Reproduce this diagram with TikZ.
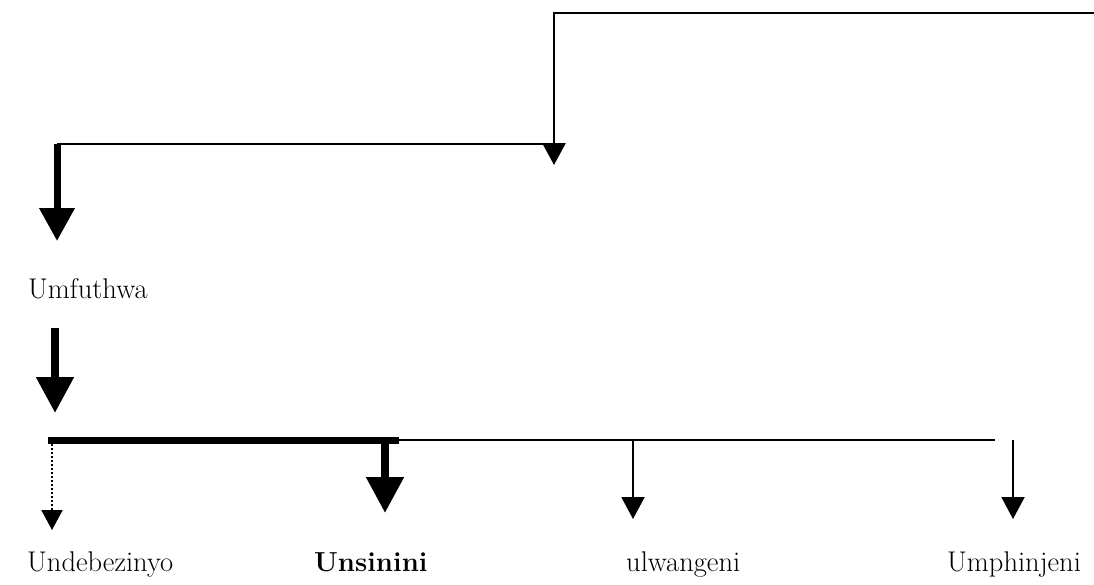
\documentclass[tikz,border=0pt]{standalone}
\usetikzlibrary{arrows.meta}
\begin{document}
\begin{tikzpicture}[x=1pt,y=-1pt,
  lbl/.style={anchor=base west,inner sep=0pt,font=\fontsize{28.5}{34}\selectfont},
  wire/.style={line width=2.8pt},
  thinwire/.style={line width=1.5pt},
  thickwire/.style={line width=7pt},
  tipS/.style={-{Triangle[width=23pt,length=22pt]}},
  tipM/.style={-{Triangle[width=34pt,length=33pt]}},
  tipL/.style={-{Triangle[width=36pt,length=36pt]}}]
\useasboundingbox (0,0) rectangle (1094,584);
% coordinates
\coordinate (topR) at (1094,13);
\coordinate (topL) at (554,13);
\coordinate (midR) at (554,144);
\coordinate (midTip) at (554,165);
\coordinate (midL) at (57,144);
\coordinate (leftTip) at (57,241);
\coordinate (uStart) at (55,328);
\coordinate (uTip) at (55,413);
\coordinate (barL) at (48,440);
\coordinate (barM) at (399,440);
\coordinate (barR) at (995,440);
\coordinate (dStart) at (52,444);
\coordinate (dTip) at (52,530);
\coordinate (sStart) at (385,444);
\coordinate (sTip) at (385,513);
\coordinate (wStart) at (633,440);
\coordinate (wTip) at (633,519);
\coordinate (pStart) at (1013,440);
\coordinate (pTip) at (1013,519);
% labels
\node[lbl] (umf) at (28,298) {Umfuthwa};
\node[lbl] (und) at (27,571) {Undebezinyo};
\node[lbl,font=\fontsize{27.5}{33}\selectfont\bfseries] (uns) at (314,571) {Unsinini};
\node[lbl] (ulw) at (626,571) {ulwangeni};
\node[lbl] (ump) at (947,571) {Umphinjeni};
% connectors
\draw[wire] (topR) -- (topL) -- (midR);
\draw[wire,tipS] (midR) -- (midTip);
\draw[wire] (midR) -- (midL);
\draw[line width=7pt,tipM] (midL) -- (leftTip);
\draw[line width=8pt,tipL] (uStart) -- (uTip);
\draw[thickwire] (barL) -- (barM);
\draw[thinwire] (barM) -- (barR);
\draw[line width=2pt,dotted,-{Triangle[width=21pt,length=20pt]}] (dStart) -- (dTip);
\draw[line width=8pt,tipL] (sStart) -- (sTip);
\draw[line width=2pt,tipS] (wStart) -- (wTip);
\draw[line width=2pt,tipS] (pStart) -- (pTip);
\end{tikzpicture}
\end{document}
